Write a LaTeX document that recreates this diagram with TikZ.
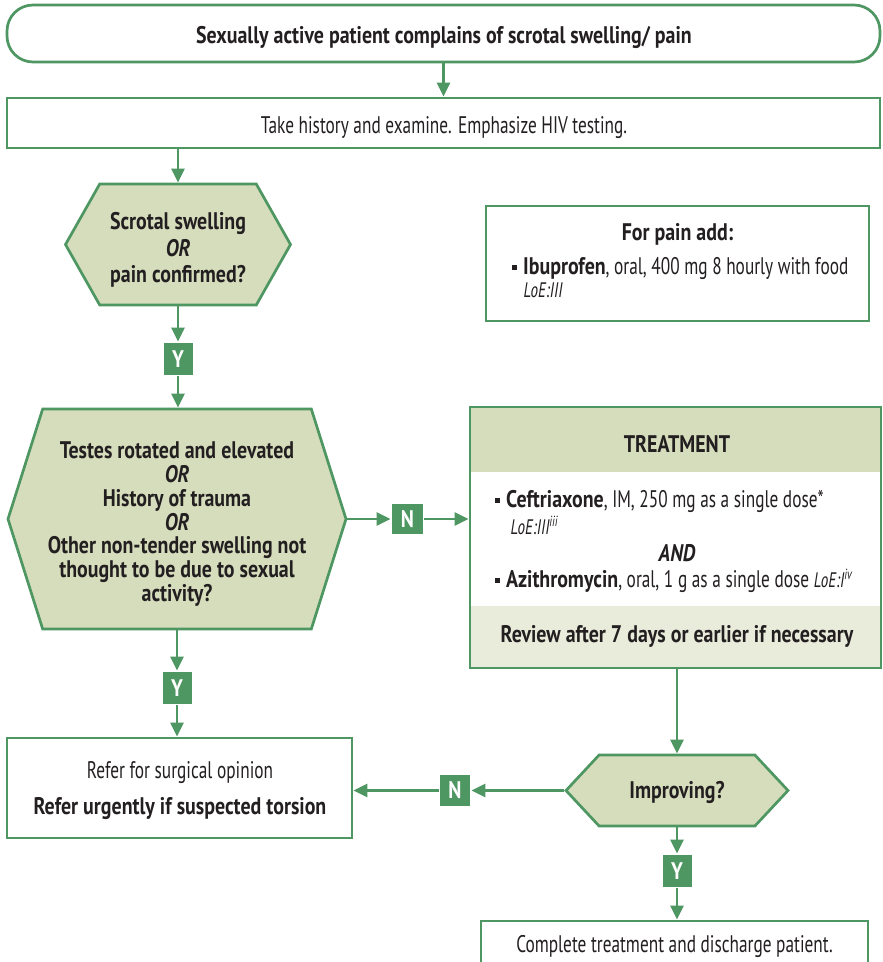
\documentclass[tikz,border=0pt]{standalone}
\usepackage{fontspec}
\setmainfont{PT Sans}[FakeStretch=0.72, BoldFeatures={FakeStretch=0.83}, BoldItalicFeatures={FakeStretch=0.83}]
\usetikzlibrary{arrows.meta,shapes.symbols}

\definecolor{stgreen}{RGB}{78,150,98}
\definecolor{stfill}{RGB}{214,221,188}
\definecolor{stlight}{RGB}{233,236,219}
\definecolor{sttext}{RGB}{35,31,32}

% small square bullet
\newcommand{\sqb}{\raisebox{0.3ex}{\rule{5.5pt}{5.5pt}}\hspace{6pt}}

\begin{document}
\begin{tikzpicture}[x=1pt,y=-1pt,line width=2.7pt,draw=stgreen,text=sttext,
	>={Triangle[length=14pt,width=13pt]},
	every node/.style={font=\fontsize{24}{27}\selectfont},
	bold/.style={font=\fontsize{24}{27}\selectfont\bfseries},
	box/.style={rectangle, draw, inner sep=0pt},
	hex/.style={signal, signal to=east and west, draw, fill=stfill, inner sep=0pt, align=center},
	yn/.style={rectangle, fill=stgreen, text=white, inner sep=0pt, minimum width=29, minimum height=32, font=\fontsize{24}{27}\selectfont\bfseries},
	loe/.style={font=\fontsize{21}{23}\selectfont\itshape}]
	\clip (0,0) rectangle (883,962);

	% start and history
	\node (S1) at (443.5,33.5)	[box, fill=white, rounded corners=26pt, minimum width=873, minimum height=57]	{};
	\node at (444,43)	[bold, anchor=base]	{Sexually active patient complains of scrotal swelling/ pain};
	\node (S2) at (443.5,123)	[box, fill=white, minimum width=873, minimum height=50]	{};
	\node at (444,133.5)	[anchor=base]	{Take history and examine. Emphasize HIV testing.};

	% questions
	\node (Q1) at (178,244.5)	[hex, minimum width=225, minimum height=121, signal pointer angle=121, font=\fontsize{24}{26.7}\selectfont\bfseries]
		{\rule{0pt}{28pt}Scrotal swelling\\\textit{OR}\\pain confirmed?};
	\node (Q2) at (177,519)	[hex, minimum width=338, minimum height=220, signal pointer angle=145, font=\fontsize{24}{23.8}\selectfont\bfseries]
		{\rule{0pt}{27pt}Testes rotated and elevated\\\textit{OR}\\History of trauma\\\textit{OR}\\Other non-tender swelling not\\thought to be due to sexual\\activity?};
	\node (Q3) at (677,790.5)	[hex, minimum width=222, minimum height=71, signal pointer angle=94, bold]	{\rule{0pt}{22pt}Improving?};

	% pain box
	\node (I1) at (677.5,263.5)	[box, fill=white, minimum width=383, minimum height=115]	{};
	\node at (677.5,240)	[bold, anchor=base]	{For pain add:};
	\node at (507,274)	[anchor=base west]	{\sqb\textbf{Ibuprofen}, oral, 400 mg 8 hourly with food};
	\node at (519,297)	[loe, anchor=base west]	{LoE:III};

	% treatment
	\fill[stfill] (470,407) rectangle (881,472);
	\fill[stlight] (470,606) rectangle (881,668);
	\node (T1) at (675.5,537.5)	[box, minimum width=411, minimum height=261]	{};
	\node at (677,452)	[bold, anchor=base]	{TREATMENT};
	\node at (490,507)	[anchor=base west]	{\sqb\textbf{Ceftriaxone}, IM, 250 mg as a single dose*};
	\node at (506,534)	[loe, anchor=base west]	{LoE:III\textsuperscript{iii}};
	\node at (677,561)	[anchor=base, font=\fontsize{24}{27}\selectfont\bfseries\itshape]	{AND};
	\node at (490,587)	[anchor=base west]	{\sqb\textbf{Azithromycin}, oral, 1 g as a single dose {\fontsize{21}{23}\selectfont\itshape LoE:I\textsuperscript{iv}}};
	\node at (677,642)	[bold, anchor=base]	{Review after 7 days or earlier if necessary};

	% outcomes
	\node (R1) at (179.5,788)	[box, fill=white, minimum width=345, minimum height=100]	{};
	\node at (180,778)	[anchor=base]	{Refer for surgical opinion};
	\node at (180,814)	[bold, anchor=base]	{Refer urgently if suspected torsion};
	\node (C1) at (674.5,961)	[box, fill=white, minimum width=387, minimum height=80]	{};
	\node at (674.5,952)	[anchor=base]	{Complete treatment and discharge patient.};

	% yes / no labels
	\node (Y1) at (178,359)	[yn]	{Y};
	\node (Y2) at (177,688)	[yn]	{Y};
	\node (Y3) at (677,871)	[yn]	{Y};
	\node (N1) at (407.5,519)	[yn, minimum width=31, minimum height=30]	{N};
	\node (N2) at (455,790.5)	[yn, minimum width=30, minimum height=31]	{N};

	% connectors
	\draw[->] (S1) -- (S2);
	\draw[->] (S2.south -| Q1.north) -- (Q1.north);
	\draw[->] (Q1.south) -- (Y1);
	\draw[->] (Y1) -- (Y1 |- Q2.north);
	\draw[->] (Q2.east) -- (N1);
	\draw[->] (N1) -- (N1 -| T1.west);
	\draw[->] (Q2.south) -- (Y2);
	\draw[->] (Y2) -- (Y2 |- R1.north);
	\draw[->] (T1.south -| Q3.north) -- (Q3.north);
	\draw[->] (Q3.west) -- (N2);
	\draw[->] (N2) -- (N2 -| R1.east);
	\draw[->] (Q3.south) -- (Y3);
	\draw[->] (Y3) -- (Y3 |- C1.north);
\end{tikzpicture}
\end{document}
